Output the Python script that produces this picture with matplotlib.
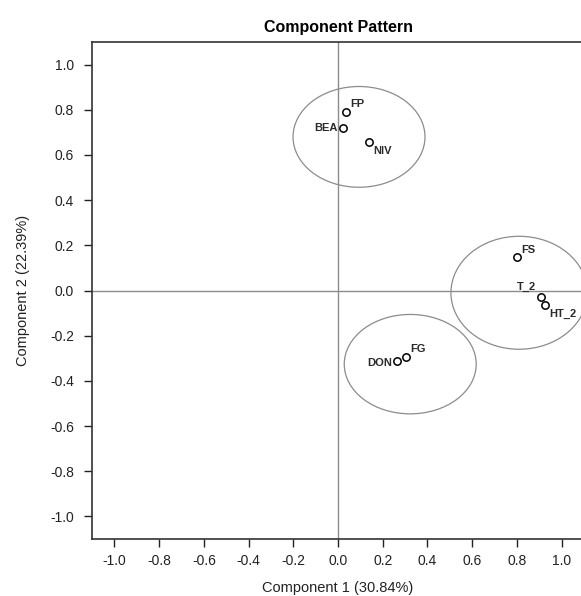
import matplotlib
matplotlib.use("Agg")
import matplotlib.pyplot as plt
from matplotlib.patches import Ellipse

plt.rcParams['font.family'] = ['Liberation Sans', 'DejaVu Sans']

labels = ["FP", "BEA", "NIV", "FS", "T_2", "HT_2", "DON", "FG"]
comp1 = [0.036, 0.022, 0.139, 0.80, 0.906, 0.924, 0.265, 0.305]
comp2 = [0.79, 0.72, 0.656, 0.147, -0.027, -0.0625, -0.31, -0.295]
label_offsets = [(3, 2), (-4, 0), (3, -3), (3, 2), (-3, 3), (3, -3), (-4, -2), (3, 2)]
label_align = [("left", "bottom"), ("right", "center"), ("left", "top"), ("left", "bottom"),
               ("right", "bottom"), ("left", "top"), ("right", "center"), ("left", "bottom")]

ellipse_centers = [(0.094, 0.68), (0.81, -0.01), (0.323, -0.326)]
ellipse_sizes = [(0.59, 0.446), (0.61, 0.50), (0.59, 0.44)]

ticks = [-1.0, -0.8, -0.6, -0.4, -0.2, 0.0, 0.2, 0.4, 0.6, 0.8, 1.0]

fig = plt.figure(figsize=(5.81, 5.96), dpi=100)
ax = fig.add_axes([92/581, 57/596, 492/581, 497/596])
ax.set_xlim(-1.1, 1.1)
ax.set_ylim(-1.1, 1.1)

ax.axhline(0, color="#8c8c8c", lw=1.0, zorder=1)
ax.axvline(0, color="#8c8c8c", lw=1.0, zorder=1)

for (cx, cy), (w, h) in zip(ellipse_centers, ellipse_sizes):
    ax.add_patch(Ellipse((cx, cy), w, h, fill=False, edgecolor="#8c8c8c", lw=0.9, zorder=2))

ax.scatter(comp1, comp2, s=28, facecolors="white", edgecolors="black", linewidths=1.1, zorder=3)
for x, y, t, off, (ha, va) in zip(comp1, comp2, labels, label_offsets, label_align):
    ax.annotate(t, (x, y), xytext=off, textcoords="offset points", ha=ha, va=va,
                fontsize=8, fontweight="bold", color="#2a2a2a", zorder=4)

ax.set_xticks(ticks)
ax.set_yticks(ticks)
ax.set_xticklabels([f"{t:.1f}" for t in ticks])
ax.set_yticklabels([f"{t:.1f}" for t in ticks])
ax.tick_params(direction="out", length=6, width=1, labelsize=10, colors="#222222", pad=7)
ax.tick_params(axis="x", pad=5)
for s in ["left", "bottom", "top"]:
    ax.spines[s].set_linewidth(1.2)
    ax.spines[s].set_color("#333333")
ax.spines["right"].set_visible(False)

ax.set_xlabel("Component 1 (30.84%)", fontsize=10.5, color="#222222", labelpad=9)
ax.set_ylabel("Component 2 (22.39%)", fontsize=10.5, color="#222222", labelpad=14)
ax.set_title("Component Pattern", fontsize=11.5, fontweight="bold", pad=7)

fig.savefig("out.png", dpi=100, facecolor="white")
